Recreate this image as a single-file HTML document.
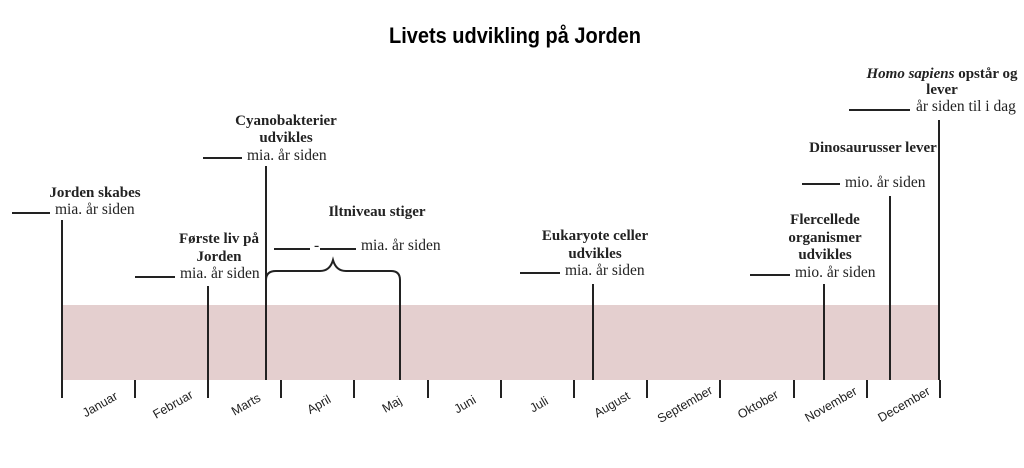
<!DOCTYPE html>
<html><head><meta charset="utf-8"><style>html,body{margin:0;padding:0;background:#fff}svg{display:block}</style></head>
<body>
<svg width="1024" height="468" viewBox="0 0 1024 468" xmlns="http://www.w3.org/2000/svg">
<rect width="1024" height="468" fill="#fff"/>
<text x="515" y="43" font-family="Liberation Sans, sans-serif" font-weight="bold" font-size="22" text-anchor="middle" textLength="252" lengthAdjust="spacingAndGlyphs" fill="#000">Livets udvikling på Jorden</text>
<rect x="62" y="305" width="878" height="75" fill="#e4cfcf"/>
<g stroke="#222" stroke-width="2">
<line x1="62" y1="380" x2="62" y2="398"/><line x1="135" y1="380" x2="135" y2="398"/><line x1="208" y1="380" x2="208" y2="398"/><line x1="281" y1="380" x2="281" y2="398"/><line x1="354" y1="380" x2="354" y2="398"/><line x1="428" y1="380" x2="428" y2="398"/><line x1="501" y1="380" x2="501" y2="398"/><line x1="574" y1="380" x2="574" y2="398"/><line x1="647" y1="380" x2="647" y2="398"/><line x1="720" y1="380" x2="720" y2="398"/><line x1="794" y1="380" x2="794" y2="398"/><line x1="867" y1="380" x2="867" y2="398"/><line x1="940" y1="380" x2="940" y2="398"/>
<line x1="62" y1="220" x2="62" y2="397"/>
<line x1="208" y1="286" x2="208" y2="397"/>
<line x1="266" y1="166" x2="266" y2="380"/>
<line x1="593" y1="284" x2="593" y2="380"/>
<line x1="824" y1="284" x2="824" y2="380"/>
<line x1="890" y1="196" x2="890" y2="380"/>
<line x1="939" y1="120" x2="939" y2="380"/>
<path d="M266 280 Q266 271 276 271 L320 271 Q330 271 333 260 Q336 271 346 271 L391 271 Q400 271 400 280 L400 380" fill="none"/>
<line x1="12" y1="213" x2="50" y2="213"/>
<line x1="135" y1="277" x2="175" y2="277"/>
<line x1="203" y1="158" x2="242" y2="158"/>
<line x1="274" y1="249" x2="310" y2="249"/>
<line x1="320" y1="249" x2="356" y2="249"/>
<line x1="520" y1="273" x2="560" y2="273"/>
<line x1="750" y1="275" x2="790" y2="275"/>
<line x1="802" y1="184" x2="840" y2="184"/>
<line x1="849" y1="110" x2="910" y2="110"/>
</g>
<g font-family="Liberation Serif, serif" font-size="15.5" fill="#222">
<g font-weight="bold" text-anchor="middle" font-size="15">
<text x="95" y="197">Jorden skabes</text>
<text x="219" y="243">Første liv på</text><text x="219" y="261">Jorden</text>
<text x="286" y="125">Cyanobakterier</text><text x="286" y="142">udvikles</text>
<text x="377" y="216">Iltniveau stiger</text>
<text x="595" y="240">Eukaryote celler</text><text x="595" y="258">udvikles</text>
<text x="825" y="224">Flercellede</text><text x="825" y="242">organismer</text><text x="825" y="259">udvikles</text>
<text x="873" y="152">Dinosaurusser lever</text>
<text x="942" y="78"><tspan font-style="italic">Homo sapiens</tspan> opstår og</text><text x="942" y="94">lever</text>
</g>
<text x="55" y="214">mia. år siden</text>
<text x="180" y="278">mia. år siden</text>
<text x="247" y="160">mia. år siden</text>
<text x="314" y="250">-</text>
<text x="361" y="250">mia. år siden</text>
<text x="565" y="275">mia. år siden</text>
<text x="795" y="277">mio. år siden</text>
<text x="845" y="187">mio. år siden</text>
<text x="916" y="111">år siden til i dag</text>
</g>
<g font-family="Liberation Sans, sans-serif" font-size="12.5" fill="#222" text-anchor="middle">
<text transform="translate(102,408) rotate(-30)">Januar</text>
<text transform="translate(175,408) rotate(-30)">Februar</text>
<text transform="translate(248,408) rotate(-30)">Marts</text>
<text transform="translate(321,408) rotate(-30)">April</text>
<text transform="translate(394,408) rotate(-30)">Maj</text>
<text transform="translate(467,408) rotate(-30)">Juni</text>
<text transform="translate(541,408) rotate(-30)">Juli</text>
<text transform="translate(614,408) rotate(-30)">August</text>
<text transform="translate(687,408) rotate(-30)">September</text>
<text transform="translate(760,408) rotate(-30)">Oktober</text>
<text transform="translate(833,408) rotate(-30)">November</text>
<text transform="translate(906,408) rotate(-30)">December</text>
</g>
</svg>
</body></html>
